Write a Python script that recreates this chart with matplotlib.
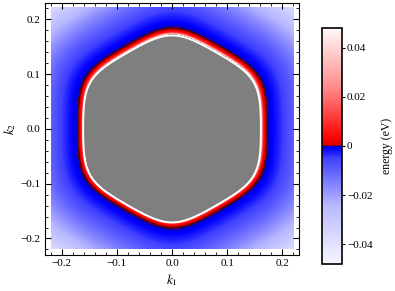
import numpy as np
import matplotlib
matplotlib.use("Agg")
import matplotlib.pyplot as plt
from matplotlib.colors import LinearSegmentedColormap, Normalize
from matplotlib.ticker import MultipleLocator

plt.rcParams['font.family'] = ['Liberation Serif', 'DejaVu Serif']
plt.rcParams['mathtext.fontset'] = 'stix'
plt.rcParams['axes.unicode_minus'] = True

# model of the band
k_span = 0.22            # extent of the density data
k_lim = 0.23             # axis limits
apothem_fermi = 0.173    # E = 0 contour on flat sides
apothem_top = 0.161      # E = e_max (edge of gray region)
apothem_outer = 0.33     # E = -e_max near corners
hex_p = 8                # rounding of the hexagon
e_max = 0.048
inner_power = 4.0
outer_power = 1.35

x_ticks = [-0.2, -0.1, 0.0, 0.1, 0.2]
x_labels = ['\u22120.2', '\u22120.1', '0.0', '0.1', '0.2']
cb_ticks = [-0.04, -0.02, 0.0, 0.02, 0.04]
cb_labels = ['\u22120.04', '\u22120.02', '0', '0.02', '0.04']

# colour stops (position in normalised range, colour)
cmap_stops = [
    (0.0, (0.97, 0.97, 1.0)),
    (0.25, (0.72, 0.72, 1.0)),
    (0.45, (0.25, 0.25, 1.0)),
    (0.49, (0.0, 0.0, 1.0)),
    (0.4995, (0.0, 0.0, 0.8)),
    (0.5, (0.35, 0.0, 0.05)),
    (0.504, (0.85, 0.0, 0.0)),
    (0.53, (1.0, 0.0, 0.0)),
    (0.75, (1.0, 0.55, 0.55)),
    (1.0, (1.0, 0.98, 0.98)),
]


def hex_norm(kx, ky):
    angles = np.deg2rad([0, 60, 120])
    s = sum(np.abs(kx * np.cos(a) + ky * np.sin(a)) ** hex_p for a in angles)
    return s ** (1.0 / hex_p)


def energy(kx, ky):
    d = hex_norm(kx, ky)
    e = np.empty_like(d)
    inside = d < apothem_fermi
    t_in = (apothem_fermi - d[inside]) / (apothem_fermi - apothem_top)
    e[inside] = e_max * t_in ** inner_power
    t_out = (d[~inside] - apothem_fermi) / (apothem_outer - apothem_fermi)
    e[~inside] = -e_max * t_out ** outer_power
    return e


def main():
    k = np.linspace(-k_span, k_span, 900)
    KX, KY = np.meshgrid(k, k)
    E = energy(KX, KY)

    cmap = LinearSegmentedColormap.from_list('band', cmap_stops, N=4096)
    cmap.set_over((0.5, 0.5, 0.5))
    cmap.set_under((1.0, 1.0, 1.0))
    norm = Normalize(-e_max, e_max)

    fig = plt.figure(figsize=(3.95, 2.91), dpi=100)
    ax = fig.add_axes([0.114, 0.124, 0.643, 0.866])
    im = ax.imshow(E, cmap=cmap, norm=norm, origin='lower',
                   extent=[-k_span, k_span, -k_span, k_span],
                   interpolation='nearest', aspect='auto')
    ax.contour(KX, KY, E, levels=[e_max * 0.97], colors='white', linewidths=1.4)
    ax.set_xlim(-k_lim, k_lim)
    ax.set_ylim(-k_lim, k_lim)
    ax.set_xticks(x_ticks)
    ax.set_xticklabels(x_labels)
    ax.set_yticks(x_ticks)
    ax.set_yticklabels(x_labels)
    ax.xaxis.set_minor_locator(MultipleLocator(0.02))
    ax.yaxis.set_minor_locator(MultipleLocator(0.02))
    ax.tick_params(which='both', direction='in', top=True, right=True,
                   labelsize=8, pad=3)
    ax.tick_params(which='major', length=4, width=0.8)
    ax.tick_params(which='minor', length=2, width=0.6)
    ax.set_xlabel(r'$k_1$', fontsize=9.5, labelpad=3)
    ax.set_ylabel(r'$k_2$', fontsize=9.5, labelpad=2)

    cax = fig.add_axes([0.815, 0.093, 0.051, 0.811])
    cb = fig.colorbar(im, cax=cax, extend='neither')
    cb.set_ticks(cb_ticks)
    cb.set_ticklabels(cb_labels)
    cb.ax.tick_params(labelsize=8, length=2.5, width=0.8, pad=1)
    cb.outline.set_linewidth(1.2)
    cb.set_label('energy (eV)', fontsize=8.5, labelpad=6)

    fig.savefig('out.png', dpi=100)


if __name__ == '__main__':
    main()
